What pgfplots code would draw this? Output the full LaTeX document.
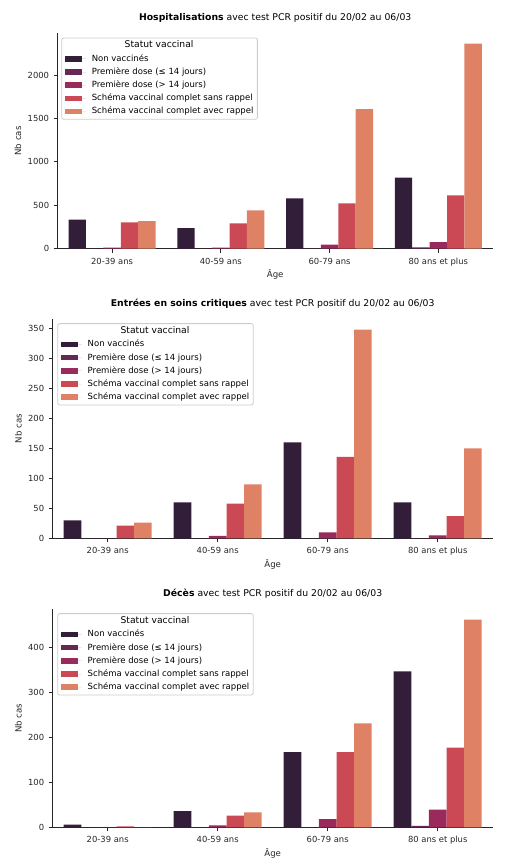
\documentclass[border=0pt]{standalone}
\usepackage{fontspec}
\setmainfont{DejaVu Sans}
\usepackage{pgfplots}
\pgfplotsset{compat=1.18}
\definecolor{c1}{HTML}{331E39}
\definecolor{c2}{HTML}{662953}
\definecolor{c3}{HTML}{9A2A5B}
\definecolor{c4}{HTML}{CB4954}
\definecolor{c5}{HTML}{DF8165}
\definecolor{axc}{HTML}{262626}
\definecolor{legc}{HTML}{CCCCCC}
\newlength\legw
\pgfplotsset{
  barleg/.style={legend image code/.code={\fill[##1,sharp corners] (0pt,-2.8pt) rectangle (17pt,2.8pt); \path (0pt,0pt) -- (21pt,0pt);}},
  common/.style={
    scale only axis, ybar=0pt, bar width=0.16,
    xmin=-0.5, xmax=3.5, ymin=0,
    axis x line*=bottom, axis y line*=left,
    axis line style={draw=axc, line width=1pt, -},
    tick style={draw=axc, line width=1pt},
    major tick length=4pt, tick align=outside,
    minor tick num=0,
    xtick={0,1,2,3},
    xticklabels={20-39 ans,40-59 ans,60-79 ans,80 ans et plus},
    tick label style={font=\fontsize{8.4}{10}\selectfont, text=axc},
    /pgf/number format/assume math mode=true,
    /pgf/number format/1000 sep={},
    xticklabel style={inner sep=0pt, text height=6pt, text depth=1.6pt},
    yticklabel style={inner sep=0pt, text height=6pt, text depth=0pt},
    xticklabel shift=5.5pt, yticklabel shift=4.4pt,
    xlabel={Âge}, ylabel={Nb cas},
    label style={font=\fontsize{8.6}{10}\selectfont, text=axc},
    xlabel style={at={(axis description cs:0.5,0)}, anchor=base, yshift=-29pt, inner sep=0pt},
    title style={at={(axis description cs:0.5,1)}, anchor=base, yshift=6.3pt, inner sep=0pt, font=\fontsize{9.3}{11}\selectfont, text=black},
    legend cell align=left,
    legend style={anchor=north west, draw=legc, fill=white,
      rounded corners=2pt, line width=0.8pt, inner xsep=3pt, inner ysep=2.5pt,
      font=\fontsize{8.5}{10}\selectfont, row sep=2.9pt, column sep=5pt,
      nodes={inner sep=1pt, text height=6.5pt, text depth=1.8pt}},
  }
}
\newcommand{\legtitle}{\addlegendimage{empty legend}\addlegendentry{\makebox[\legw][c]{\hspace*{-27pt}\fontsize{9.2}{10}\selectfont Statut vaccinal}}}
\begin{document}
\settowidth{\legw}{\fontsize{8.5}{10}\selectfont Schéma vaccinal complet avec rappel}%
\begin{tikzpicture}
\useasboundingbox (0pt,0pt) rectangle (507pt,864pt);
% ---------------- Chart 1
\begin{axis}[common, at={(57.7pt,615.3pt)}, anchor=south west, width=435pt, height=215.4pt,
  ymax=2483, ytick={0,500,1000,1500,2000},
  ylabel style={at={(axis description cs:-0.0913,0.5)}, anchor=center},
  legend style={at={(0.0085,0.98)}},
  title={\textbf{Hospitalisations} avec test PCR positif du 20/02 au 06/03}]
\legtitle
\addplot[fill=c1, draw=none, barleg] coordinates {(0,334) (1,238) (2,580) (3,818)};
\addlegendentry{Non vaccinés}
\addplot[fill=c2, draw=none, barleg] coordinates {(0,2) (1,2) (2,4) (3,15)};
\addlegendentry{Première dose (≤ 14 jours)}
\addplot[fill=c3, draw=none, barleg] coordinates {(0,12) (1,12) (2,46) (3,77)};
\addlegendentry{Première dose (> 14 jours)}
\addplot[fill=c4, draw=none, barleg] coordinates {(0,303) (1,292) (2,522) (3,614)};
\addlegendentry{Schéma vaccinal complet sans rappel}
\addplot[fill=c5, draw=none, barleg] coordinates {(0,319) (1,441) (2,1608) (3,2365)};
\addlegendentry{Schéma vaccinal complet avec rappel}
\end{axis}
% ---------------- Chart 2
\begin{axis}[common, at={(52.7pt,325.7pt)}, anchor=south west, width=440pt, height=219pt,
  ymax=365.4, ytick={0,50,100,150,200,250,300,350},
  ylabel style={at={(axis description cs:-0.078,0.5)}, anchor=center},
  legend style={at={(0.0105,0.982)}},
  title={\textbf{Entrées en soins critiques} avec test PCR positif du 20/02 au 06/03}]
\legtitle
\addplot[fill=c1, draw=none, barleg] coordinates {(0,30) (1,60) (2,160) (3,60)};
\addlegendentry{Non vaccinés}
\addplot[fill=c2, draw=none, barleg] coordinates {(0,0) (1,0) (2,0) (3,0)};
\addlegendentry{Première dose (≤ 14 jours)}
\addplot[fill=c3, draw=none, barleg] coordinates {(0,0) (1,4) (2,10) (3,5)};
\addlegendentry{Première dose (> 14 jours)}
\addplot[fill=c4, draw=none, barleg] coordinates {(0,21) (1,58) (2,136) (3,37)};
\addlegendentry{Schéma vaccinal complet sans rappel}
\addplot[fill=c5, draw=none, barleg] coordinates {(0,26) (1,90) (2,348) (3,150)};
\addlegendentry{Schéma vaccinal complet avec rappel}
\end{axis}
% ---------------- Chart 3
\begin{axis}[common, at={(52.7pt,36.7pt)}, anchor=south west, width=440pt, height=218pt,
  ymax=484, ytick={0,100,200,300,400},
  ylabel style={at={(axis description cs:-0.078,0.5)}, anchor=center},
  legend style={at={(0.0105,0.982)}},
  title={\textbf{Décès} avec test PCR positif du 20/02 au 06/03}]
\legtitle
\addplot[fill=c1, draw=none, barleg] coordinates {(0,6) (1,36) (2,167) (3,346)};
\addlegendentry{Non vaccinés}
\addplot[fill=c2, draw=none, barleg] coordinates {(0,0) (1,0) (2,0) (3,3)};
\addlegendentry{Première dose (≤ 14 jours)}
\addplot[fill=c3, draw=none, barleg] coordinates {(0,0) (1,4) (2,18) (3,39)};
\addlegendentry{Première dose (> 14 jours)}
\addplot[fill=c4, draw=none, barleg] coordinates {(0,2) (1,26) (2,167) (3,177)};
\addlegendentry{Schéma vaccinal complet sans rappel}
\addplot[fill=c5, draw=none, barleg] coordinates {(0,0) (1,33) (2,231) (3,461)};
\addlegendentry{Schéma vaccinal complet avec rappel}
\end{axis}
\end{tikzpicture}
\end{document}
